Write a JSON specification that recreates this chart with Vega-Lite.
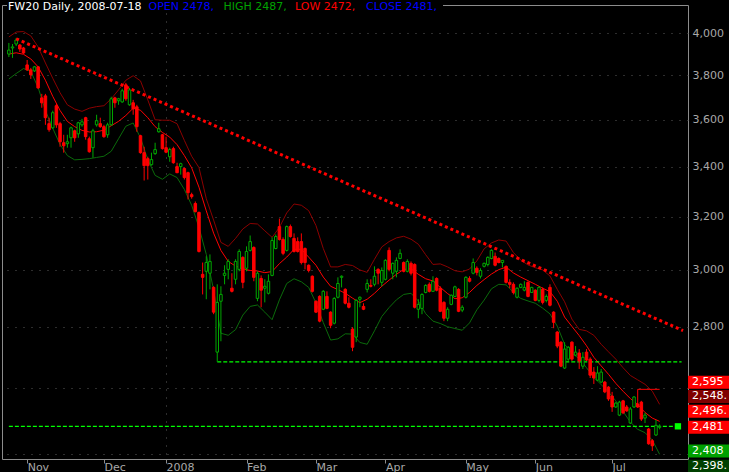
{
  "$schema": "https://vega.github.io/schema/vega-lite/v6.json",
  "width": 686,
  "height": 454,
  "autosize": {"type": "none"},
  "padding": {"left": 2, "top": 5, "right": 41, "bottom": 13},
  "background": "#000000",
  "config": {"view": {"stroke": "#8c8c8c", "strokeWidth": 1}, "font": "DejaVu Sans"},
  "datasets": {
    "ohlc": [
      {"i":0,"o":3899,"h":3952,"l":3885,"c":3918},{"i":1,"o":3928,"h":3947,"l":3881,"c":3933},{"i":2,"o":3947,"h":3976,"l":3937,"c":3966},{"i":3,"o":3942,"h":3947,"l":3909,"c":3923},{"i":4,"o":3928,"h":3933,"l":3900,"c":3904},{"i":5,"o":3848,"h":3871,"l":3820,"c":3825},{"i":6,"o":3825,"h":3834,"l":3783,"c":3802},{"i":7,"o":3820,"h":3843,"l":3815,"c":3839},{"i":8,"o":3839,"h":3843,"l":3738,"c":3742},{"i":9,"o":3697,"h":3715,"l":3653,"c":3675},
      {"i":10,"o":3706,"h":3715,"l":3578,"c":3609},{"i":11,"o":3583,"h":3609,"l":3548,"c":3557},{"i":12,"o":3565,"h":3640,"l":3561,"c":3631},{"i":13,"o":3662,"h":3670,"l":3565,"c":3578},{"i":14,"o":3583,"h":3591,"l":3484,"c":3505},{"i":15,"o":3501,"h":3535,"l":3459,"c":3488},{"i":16,"o":3497,"h":3535,"l":3480,"c":3505},{"i":17,"o":3522,"h":3570,"l":3480,"c":3565},{"i":18,"o":3552,"h":3557,"l":3505,"c":3522},{"i":19,"o":3539,"h":3591,"l":3522,"c":3587},
      {"i":20,"o":3578,"h":3604,"l":3570,"c":3591},{"i":21,"o":3609,"h":3613,"l":3514,"c":3527},{"i":22,"o":3518,"h":3527,"l":3459,"c":3463},{"i":23,"o":3480,"h":3561,"l":3438,"c":3552},{"i":24,"o":3578,"h":3622,"l":3570,"c":3596},{"i":25,"o":3583,"h":3609,"l":3565,"c":3570},{"i":26,"o":3570,"h":3578,"l":3522,"c":3527},{"i":27,"o":3535,"h":3587,"l":3522,"c":3578},{"i":28,"o":3578,"h":3702,"l":3574,"c":3693},{"i":29,"o":3697,"h":3702,"l":3653,"c":3675},
      {"i":30,"o":3684,"h":3697,"l":3666,"c":3693},{"i":31,"o":3679,"h":3738,"l":3675,"c":3729},{"i":32,"o":3756,"h":3765,"l":3684,"c":3693},{"i":33,"o":3666,"h":3742,"l":3662,"c":3733},{"i":34,"o":3675,"h":3688,"l":3622,"c":3648},{"i":35,"o":3657,"h":3666,"l":3548,"c":3570},{"i":36,"o":3531,"h":3535,"l":3455,"c":3459},{"i":37,"o":3459,"h":3484,"l":3344,"c":3405},{"i":38,"o":3434,"h":3442,"l":3348,"c":3405},{"i":39,"o":3409,"h":3459,"l":3405,"c":3430},
      {"i":40,"o":3455,"h":3501,"l":3450,"c":3472},{"i":41,"o":3548,"h":3587,"l":3544,"c":3561},{"i":42,"o":3535,"h":3539,"l":3472,"c":3476},{"i":43,"o":3480,"h":3527,"l":3457,"c":3461},{"i":44,"o":3442,"h":3480,"l":3421,"c":3472},{"i":45,"o":3476,"h":3484,"l":3413,"c":3417},{"i":46,"o":3401,"h":3417,"l":3374,"c":3376},{"i":47,"o":3401,"h":3417,"l":3368,"c":3413},{"i":48,"o":3393,"h":3397,"l":3348,"c":3356},{"i":49,"o":3376,"h":3380,"l":3268,"c":3295},
      {"i":50,"o":3287,"h":3295,"l":3271,"c":3279},{"i":51,"o":3252,"h":3260,"l":3217,"c":3220},{"i":52,"o":3217,"h":3220,"l":3064,"c":3068},{"i":53,"o":2984,"h":3027,"l":2912,"c":2973},{"i":54,"o":2995,"h":3050,"l":2895,"c":3027},{"i":55,"o":2988,"h":3057,"l":2930,"c":3031},{"i":56,"o":2937,"h":2941,"l":2843,"c":2850},{"i":57,"o":2715,"h":2948,"l":2683,"c":2884},{"i":58,"o":2888,"h":2941,"l":2751,"c":2912},{"i":59,"o":2980,"h":3017,"l":2948,"c":2988},
      {"i":60,"o":3002,"h":3039,"l":2966,"c":3031},{"i":61,"o":2934,"h":2988,"l":2919,"c":2923},{"i":62,"o":2966,"h":3039,"l":2948,"c":3031},{"i":63,"o":3002,"h":3076,"l":2995,"c":3068},{"i":64,"o":3046,"h":3050,"l":2934,"c":2955},{"i":65,"o":3006,"h":3087,"l":2995,"c":3068},{"i":66,"o":3072,"h":3128,"l":3068,"c":3105},{"i":67,"o":3083,"h":3087,"l":2959,"c":2973},{"i":68,"o":2898,"h":2995,"l":2888,"c":2988},{"i":69,"o":2969,"h":2980,"l":2867,"c":2927},
      {"i":70,"o":2934,"h":2966,"l":2884,"c":2941},{"i":71,"o":2916,"h":2984,"l":2912,"c":2959},{"i":72,"o":2980,"h":3121,"l":2977,"c":3109},{"i":73,"o":3079,"h":3132,"l":3076,"c":3124},{"i":74,"o":3162,"h":3193,"l":3109,"c":3113},{"i":75,"o":3113,"h":3121,"l":3054,"c":3061},{"i":76,"o":3072,"h":3166,"l":3068,"c":3162},{"i":77,"o":3162,"h":3170,"l":3120,"c":3124},{"i":78,"o":3117,"h":3136,"l":3064,"c":3068},{"i":79,"o":3105,"h":3121,"l":3064,"c":3068},
      {"i":80,"o":3105,"h":3136,"l":3020,"c":3027},{"i":81,"o":3079,"h":3083,"l":3002,"c":3027},{"i":82,"o":3017,"h":3020,"l":2991,"c":2998},{"i":83,"o":2977,"h":2980,"l":2919,"c":2923},{"i":84,"o":2888,"h":2891,"l":2847,"c":2850},{"i":85,"o":2905,"h":2909,"l":2815,"c":2819},{"i":86,"o":2860,"h":2927,"l":2857,"c":2923},{"i":87,"o":2905,"h":2923,"l":2860,"c":2863},{"i":88,"o":2850,"h":2853,"l":2795,"c":2805},{"i":89,"o":2812,"h":2902,"l":2808,"c":2898},
      {"i":90,"o":2902,"h":2973,"l":2898,"c":2951},{"i":91,"o":2973,"h":2980,"l":2937,"c":2977},{"i":92,"o":2930,"h":2934,"l":2877,"c":2881},{"i":93,"o":2881,"h":2902,"l":2863,"c":2867},{"i":94,"o":2792,"h":2798,"l":2718,"c":2731},{"i":95,"o":2765,"h":2895,"l":2748,"c":2891},{"i":96,"o":2895,"h":2905,"l":2867,"c":2902},{"i":97,"o":2870,"h":2881,"l":2857,"c":2860},{"i":98,"o":2930,"h":2966,"l":2919,"c":2951},{"i":99,"o":2944,"h":2966,"l":2937,"c":2941},
      {"i":100,"o":2948,"h":3013,"l":2941,"c":2977},{"i":101,"o":3002,"h":3006,"l":2948,"c":2988},{"i":102,"o":2955,"h":3009,"l":2941,"c":2998},{"i":103,"o":2966,"h":3039,"l":2962,"c":3035},{"i":104,"o":3072,"h":3083,"l":2995,"c":3002},{"i":105,"o":2988,"h":3027,"l":2966,"c":3024},{"i":106,"o":2995,"h":3046,"l":2973,"c":3035},{"i":107,"o":3042,"h":3076,"l":3039,"c":3061},{"i":108,"o":3027,"h":3031,"l":2991,"c":2995},{"i":109,"o":2995,"h":3039,"l":2991,"c":3031},
      {"i":110,"o":3024,"h":3031,"l":2980,"c":2988},{"i":111,"o":3020,"h":3024,"l":2863,"c":2867},{"i":112,"o":2860,"h":2895,"l":2829,"c":2877},{"i":113,"o":2863,"h":2916,"l":2843,"c":2912},{"i":114,"o":2919,"h":2948,"l":2916,"c":2944},{"i":115,"o":2948,"h":2955,"l":2919,"c":2923},{"i":116,"o":2923,"h":2977,"l":2921,"c":2959},{"i":117,"o":2969,"h":2973,"l":2923,"c":2927},{"i":118,"o":2934,"h":2941,"l":2850,"c":2853},{"i":119,"o":2884,"h":2888,"l":2819,"c":2829},
      {"i":120,"o":2829,"h":2867,"l":2819,"c":2860},{"i":121,"o":2877,"h":2912,"l":2874,"c":2909},{"i":122,"o":2905,"h":2943,"l":2902,"c":2939},{"i":123,"o":2930,"h":2934,"l":2850,"c":2853},{"i":124,"o":2857,"h":2874,"l":2850,"c":2867},{"i":125,"o":2902,"h":2977,"l":2898,"c":2973},{"i":126,"o":2969,"h":2977,"l":2955,"c":2959},{"i":127,"o":2988,"h":3042,"l":2984,"c":3027},{"i":128,"o":3006,"h":3013,"l":2980,"c":2991},{"i":129,"o":2977,"h":3006,"l":2969,"c":2998},
      {"i":130,"o":3013,"h":3027,"l":3009,"c":3024},{"i":131,"o":3020,"h":3050,"l":3013,"c":3046},{"i":132,"o":3042,"h":3076,"l":3039,"c":3072},{"i":133,"o":3050,"h":3064,"l":3013,"c":3017},{"i":134,"o":3042,"h":3046,"l":3024,"c":3027},{"i":135,"o":3027,"h":3035,"l":3009,"c":3035},{"i":136,"o":3013,"h":3016,"l":2951,"c":2955},{"i":137,"o":2955,"h":2966,"l":2934,"c":2948},{"i":138,"o":2948,"h":2955,"l":2912,"c":2919},{"i":139,"o":2902,"h":2937,"l":2898,"c":2934},
      {"i":140,"o":2937,"h":2951,"l":2934,"c":2948},{"i":141,"o":2927,"h":2959,"l":2923,"c":2937},{"i":142,"o":2955,"h":2959,"l":2902,"c":2905},{"i":143,"o":2919,"h":2939,"l":2917,"c":2937},{"i":144,"o":2927,"h":2930,"l":2888,"c":2891},{"i":145,"o":2891,"h":2941,"l":2884,"c":2937},{"i":146,"o":2930,"h":2937,"l":2877,"c":2884},{"i":147,"o":2891,"h":2912,"l":2884,"c":2905},{"i":148,"o":2937,"h":2948,"l":2870,"c":2874},{"i":149,"o":2850,"h":2853,"l":2795,"c":2815},
      {"i":150,"o":2782,"h":2785,"l":2728,"c":2735},{"i":151,"o":2748,"h":2751,"l":2666,"c":2669},{"i":152,"o":2663,"h":2748,"l":2660,"c":2725},{"i":153,"o":2692,"h":2735,"l":2686,"c":2731},{"i":154,"o":2748,"h":2751,"l":2686,"c":2692},{"i":155,"o":2705,"h":2735,"l":2702,"c":2715},{"i":156,"o":2712,"h":2725,"l":2660,"c":2686},{"i":157,"o":2669,"h":2715,"l":2660,"c":2698},{"i":158,"o":2715,"h":2725,"l":2686,"c":2689},{"i":159,"o":2692,"h":2698,"l":2631,"c":2640},
      {"i":160,"o":2650,"h":2666,"l":2612,"c":2631},{"i":161,"o":2624,"h":2669,"l":2621,"c":2647},{"i":162,"o":2618,"h":2660,"l":2616,"c":2650},{"i":163,"o":2618,"h":2621,"l":2583,"c":2587},{"i":164,"o":2602,"h":2605,"l":2559,"c":2565},{"i":165,"o":2574,"h":2587,"l":2525,"c":2540},{"i":166,"o":2540,"h":2555,"l":2537,"c":2552},{"i":167,"o":2515,"h":2559,"l":2512,"c":2555},{"i":168,"o":2559,"h":2562,"l":2518,"c":2522},{"i":169,"o":2540,"h":2546,"l":2525,"c":2528},
      {"i":170,"o":2491,"h":2540,"l":2488,"c":2534},{"i":171,"o":2540,"h":2574,"l":2537,"c":2571},{"i":172,"o":2549,"h":2552,"l":2537,"c":2540},{"i":173,"o":2555,"h":2559,"l":2497,"c":2503},{"i":174,"o":2506,"h":2522,"l":2491,"c":2515},{"i":175,"o":2473,"h":2476,"l":2426,"c":2429},{"i":176,"o":2438,"h":2443,"l":2408,"c":2423},{"i":177,"o":2455,"h":2500,"l":2452,"c":2484},{"i":178,"o":2478,"h":2487,"l":2472,"c":2481}
    ],
    "bands": [
      {"i":0,"u":3981,"m":3899,"lo":3783},{"i":2,"u":4005,"m":3905,"lo":3808},{"i":4,"u":4007,"m":3898,"lo":3831},{"i":6,"u":3986,"m":3876,"lo":3818},{"i":8,"u":3933,"m":3839,"lo":3744},{"i":10,"u":3857,"m":3777,"lo":3641},{"i":12,"u":3786,"m":3704,"lo":3563},{"i":14,"u":3720,"m":3641,"lo":3494},{"i":16,"u":3666,"m":3593,"lo":3447},{"i":18,"u":3647,"m":3570,"lo":3429},
      {"i":20,"u":3637,"m":3554,"lo":3431},{"i":22,"u":3651,"m":3547,"lo":3434},{"i":24,"u":3658,"m":3548,"lo":3439},{"i":26,"u":3662,"m":3555,"lo":3444},{"i":28,"u":3693,"m":3574,"lo":3465},{"i":30,"u":3733,"m":3593,"lo":3518},{"i":32,"u":3777,"m":3619,"lo":3572},{"i":34,"u":3798,"m":3651,"lo":3586},{"i":36,"u":3774,"m":3642,"lo":3522},{"i":38,"u":3688,"m":3609,"lo":3430},
      {"i":40,"u":3600,"m":3570,"lo":3365},{"i":42,"u":3598,"m":3545,"lo":3349},{"i":44,"u":3598,"m":3525,"lo":3371},{"i":46,"u":3583,"m":3493,"lo":3356},{"i":48,"u":3511,"m":3447,"lo":3308},{"i":50,"u":3444,"m":3396,"lo":3245},{"i":52,"u":3397,"m":3317,"lo":3159},{"i":54,"u":3271,"m":3223,"lo":3057},{"i":56,"u":3187,"m":3137,"lo":2928},{"i":58,"u":3102,"m":3072,"lo":2778},
      {"i":60,"u":3087,"m":3031,"lo":2771},{"i":62,"u":3117,"m":3014,"lo":2790},{"i":64,"u":3153,"m":3004,"lo":2840},{"i":66,"u":3174,"m":2998,"lo":2870},{"i":68,"u":3172,"m":2996,"lo":2875},{"i":70,"u":3146,"m":2990,"lo":2850},{"i":72,"u":3121,"m":2994,"lo":2824},{"i":74,"u":3159,"m":3023,"lo":2893},{"i":76,"u":3215,"m":3047,"lo":2951},{"i":78,"u":3250,"m":3076,"lo":2968},
      {"i":80,"u":3245,"m":3076,"lo":2957},{"i":82,"u":3224,"m":3047,"lo":2937},{"i":84,"u":3166,"m":3017,"lo":2882},{"i":86,"u":3079,"m":2974,"lo":2814},{"i":88,"u":3011,"m":2941,"lo":2755},{"i":90,"u":3011,"m":2929,"lo":2759},{"i":92,"u":3020,"m":2916,"lo":2776},{"i":94,"u":3016,"m":2899,"lo":2775},{"i":96,"u":3000,"m":2883,"lo":2747},{"i":98,"u":2991,"m":2895,"lo":2741},
      {"i":100,"u":3039,"m":2916,"lo":2786},{"i":102,"u":3085,"m":2941,"lo":2835},{"i":104,"u":3105,"m":2963,"lo":2866},{"i":106,"u":3119,"m":2984,"lo":2893},{"i":108,"u":3125,"m":3002,"lo":2912},{"i":110,"u":3114,"m":3004,"lo":2916},{"i":112,"u":3095,"m":2984,"lo":2889},{"i":114,"u":3056,"m":2968,"lo":2845},{"i":116,"u":3020,"m":2960,"lo":2819},{"i":118,"u":3022,"m":2937,"lo":2811},
      {"i":120,"u":3011,"m":2915,"lo":2800},{"i":122,"u":2997,"m":2897,"lo":2794},{"i":124,"u":2993,"m":2900,"lo":2788},{"i":126,"u":3003,"m":2919,"lo":2813},{"i":128,"u":3033,"m":2944,"lo":2858},{"i":130,"u":3078,"m":2965,"lo":2892},{"i":132,"u":3100,"m":2985,"lo":2932},{"i":134,"u":3111,"m":3001,"lo":2948},{"i":136,"u":3107,"m":3010,"lo":2946},{"i":138,"u":3064,"m":2989,"lo":2920},
      {"i":140,"u":3036,"m":2974,"lo":2898},{"i":142,"u":3018,"m":2961,"lo":2889},{"i":144,"u":3008,"m":2948,"lo":2881},{"i":146,"u":3000,"m":2934,"lo":2864},{"i":148,"u":2978,"m":2922,"lo":2844},{"i":150,"u":2930,"m":2888,"lo":2802},{"i":152,"u":2886,"m":2833,"lo":2741},{"i":154,"u":2826,"m":2801,"lo":2712},{"i":156,"u":2791,"m":2770,"lo":2693},{"i":158,"u":2786,"m":2736,"lo":2664},
      {"i":160,"u":2771,"m":2698,"lo":2633},{"i":162,"u":2741,"m":2670,"lo":2610},{"i":164,"u":2716,"m":2643,"lo":2587},{"i":166,"u":2692,"m":2614,"lo":2559},{"i":168,"u":2664,"m":2589,"lo":2526},{"i":170,"u":2639,"m":2566,"lo":2494},{"i":172,"u":2625,"m":2548,"lo":2472},{"i":174,"u":2611,"m":2523,"lo":2462},{"i":176,"u":2589,"m":2506,"lo":2440},{"i":178,"u":2548,"m":2496,"lo":2398}
    ],
    "trend": [{"i":2,"p":3972},{"i":184.4,"p":2787}],
    "support": [{"i":57,"p":2683},{"i":184,"p":2683}],
    "lastline": [{"i":0,"p":2481},{"i":182,"p":2481}],
    "lastmark": [{"i":183,"p":2481}],
    "stop": [{"s":0,"i":172,"p":2546},{"s":1,"i":172,"p":2595},{"s":2,"i":178,"p":2595}],
    "tags": [
      {"k":"stop","v":2595,"t":"2,595"},
      {"k":"upper","v":2548,"t":"2,548."},
      {"k":"ma","v":2496,"t":"2,496."},
      {"k":"close","v":2481,"t":"2,481"},
      {"k":"low","v":2408,"t":"2,408"},
      {"k":"lower","v":2398,"t":"2,398."}
    ]
  },
  "encoding": {
    "x": {
      "field": "i", "type": "quantitative",
      "scale": {"domain": [-0.512, 184.39], "nice": false, "zero": false},
      "axis": {
        "orient": "bottom", "title": null,
        "values": [5, 26, 43, 65, 84, 103, 125, 144, 165],
        "labelExpr": "datum.value==5?'Nov':datum.value==26?'Dec':datum.value==43?'2008':datum.value==65?'Feb':datum.value==84?'Mar':datum.value==103?'Apr':datum.value==125?'May':datum.value==144?'Jun':'Jul'",
        "grid": true, "gridColor": "#5a5a5a", "gridDash": [1, 7],
        "gridOpacity": {"condition": {"test": "datum.value == 43", "value": 1}, "value": 0},
        "domain": false, "ticks": true, "tickColor": "#8c8c8c", "tickSize": 4,
        "labelColor": "#a8a8a8", "labelFont": "DejaVu Sans", "labelFontSize": 11,
        "labelAlign": "left", "labelBaseline": "top", "labelPadding": -2, "labelDx": 2,
        "labelFlush": false, "labelOverlap": false
      }
    },
    "y": {
      "field": "p", "type": "quantitative",
      "scale": {"type": "log", "domain": [2384.5, 4138.4], "nice": false, "zero": false},
      "axis": {
        "orient": "right", "title": null,
        "values": [2400, 2600, 2800, 3000, 3200, 3400, 3600, 3800, 4000],
        "labelExpr": "datum.value < 2700 ? '' : format(datum.value, ',')",
        "grid": true, "gridColor": "#5a5a5a", "gridDash": [1, 7],
        "ticks": false, "domain": false,
        "labelColor": "#a8a8a8", "labelFont": "DejaVu Sans", "labelFontSize": 11,
        "labelPadding": 4, "labelBaseline": "middle", "labelFlush": false
      }
    }
  },
  "layer": [
    {
      "data": {"name": "trend"},
      "mark": {"type": "line", "color": "#ff0000", "strokeWidth": 3, "strokeDash": [3, 3], "opacity": 0},
      "encoding": {}
    },
    {
      "data": {"name": "bands"},
      "mark": {"type": "line", "color": "#8c0000", "strokeWidth": 1},
      "encoding": {"y": {"field": "u", "type": "quantitative", "title": null}}
    },
    {
      "data": {"name": "bands"},
      "mark": {"type": "line", "color": "#ff0000", "strokeWidth": 1},
      "encoding": {"y": {"field": "m", "type": "quantitative", "title": null}}
    },
    {
      "data": {"name": "bands"},
      "mark": {"type": "line", "color": "#0b6b0b", "strokeWidth": 1},
      "encoding": {"y": {"field": "lo", "type": "quantitative", "title": null}}
    },
    {
      "data": {"name": "support"},
      "mark": {"type": "line", "color": "#00ff00", "strokeWidth": 1.3, "strokeDash": [4, 2]},
      "encoding": {}
    },
    {
      "data": {"name": "lastline"},
      "mark": {"type": "line", "color": "#00ff00", "strokeWidth": 1.3, "strokeDash": [4, 2]},
      "encoding": {}
    },
    {
      "data": {"name": "lastmark"},
      "mark": {"type": "point", "shape": "square", "filled": true, "color": "#00ff00", "size": 40, "opacity": 1},
      "encoding": {}
    },
    {
      "data": {"name": "ohlc"},
      "mark": {"type": "rule", "strokeWidth": 1},
      "encoding": {
        "y": {"field": "l", "type": "quantitative", "title": null},
        "y2": {"field": "h"},
        "color": {"condition": {"test": "datum.c >= datum.o", "value": "#00a800"}, "value": "#ff0000"}
      }
    },
    {
      "data": {"name": "ohlc"},
      "mark": {"type": "bar", "width": 2.5, "strokeWidth": 1},
      "encoding": {
        "y": {"field": "o", "type": "quantitative", "title": null},
        "y2": {"field": "c"},
        "fill": {"condition": {"test": "datum.c >= datum.o", "value": "#000000"}, "value": "#ff0000"},
        "stroke": {"condition": {"test": "datum.c >= datum.o", "value": "#00a800"}, "value": "#ff0000"}
      }
    },
    {
      "data": {"name": "trend"},
      "mark": {"type": "line", "color": "#ff0000", "strokeWidth": 3, "strokeDash": [3, 3]},
      "encoding": {}
    },
    {
      "data": {"name": "stop"},
      "mark": {"type": "line", "color": "#ff0000", "strokeWidth": 1},
      "encoding": {"order": {"field": "s"}}
    },
    {
      "data": {"name": "tags"},
      "transform": [{"filter": "datum.k == 'stop'"}],
      "layer": [
        {"mark": {"type": "tick", "orient": "horizontal", "size": 41, "thickness": 13, "color": "#ff0000", "opacity": 1, "yOffset": -7},
         "encoding": {"x": {"value": 706.5}, "y": {"field": "v", "type": "quantitative", "title": null}}},
        {"mark": {"type": "text", "align": "left", "baseline": "middle", "color": "#ffffff", "fontSize": 11, "yOffset": -7},
         "encoding": {"x": {"value": 690}, "y": {"field": "v", "type": "quantitative", "title": null}, "text": {"field": "t"}}}
      ]
    },
    {
      "data": {"name": "tags"},
      "transform": [{"filter": "datum.k == 'upper'"}],
      "layer": [
        {"mark": {"type": "tick", "orient": "horizontal", "size": 41, "thickness": 13, "color": "#800000", "opacity": 1, "yOffset": -8},
         "encoding": {"x": {"value": 706.5}, "y": {"field": "v", "type": "quantitative", "title": null}}},
        {"mark": {"type": "text", "align": "left", "baseline": "middle", "color": "#ffffff", "fontSize": 11, "yOffset": -8},
         "encoding": {"x": {"value": 690}, "y": {"field": "v", "type": "quantitative", "title": null}, "text": {"field": "t"}}}
      ]
    },
    {
      "data": {"name": "tags"},
      "transform": [{"filter": "datum.k == 'ma'"}],
      "layer": [
        {"mark": {"type": "tick", "orient": "horizontal", "size": 41, "thickness": 13, "color": "#ff0000", "opacity": 1, "yOffset": -10},
         "encoding": {"x": {"value": 706.5}, "y": {"field": "v", "type": "quantitative", "title": null}}},
        {"mark": {"type": "text", "align": "left", "baseline": "middle", "color": "#ffffff", "fontSize": 11, "yOffset": -10},
         "encoding": {"x": {"value": 690}, "y": {"field": "v", "type": "quantitative", "title": null}, "text": {"field": "t"}}}
      ]
    },
    {
      "data": {"name": "tags"},
      "transform": [{"filter": "datum.k == 'close'"}],
      "layer": [
        {"mark": {"type": "tick", "orient": "horizontal", "size": 41, "thickness": 13, "color": "#ff0000", "opacity": 1, "yOffset": 1},
         "encoding": {"x": {"value": 706.5}, "y": {"field": "v", "type": "quantitative", "title": null}}},
        {"mark": {"type": "text", "align": "left", "baseline": "middle", "color": "#ffffff", "fontSize": 11, "yOffset": 1},
         "encoding": {"x": {"value": 690}, "y": {"field": "v", "type": "quantitative", "title": null}, "text": {"field": "t"}}}
      ]
    },
    {
      "data": {"name": "tags"},
      "transform": [{"filter": "datum.k == 'low'"}],
      "layer": [
        {"mark": {"type": "tick", "orient": "horizontal", "size": 41, "thickness": 13, "color": "#00a000", "opacity": 1, "yOffset": 0},
         "encoding": {"x": {"value": 706.5}, "y": {"field": "v", "type": "quantitative", "title": null}}},
        {"mark": {"type": "text", "align": "left", "baseline": "middle", "color": "#ffffff", "fontSize": 11, "yOffset": 0},
         "encoding": {"x": {"value": 690}, "y": {"field": "v", "type": "quantitative", "title": null}, "text": {"field": "t"}}}
      ]
    },
    {
      "data": {"name": "tags"},
      "transform": [{"filter": "datum.k == 'lower'"}],
      "layer": [
        {"mark": {"type": "tick", "orient": "horizontal", "size": 41, "thickness": 13, "color": "#004000", "opacity": 1, "yOffset": 12},
         "encoding": {"x": {"value": 706.5}, "y": {"field": "v", "type": "quantitative", "title": null}}},
        {"mark": {"type": "text", "align": "left", "baseline": "middle", "color": "#ffffff", "fontSize": 11, "yOffset": 12},
         "encoding": {"x": {"value": 690}, "y": {"field": "v", "type": "quantitative", "title": null}, "text": {"field": "t"}}}
      ]
    },
    {
      "data": {"values": [{}]},
      "layer": [
        {"mark": {"type": "rect", "color": "#000000"},
         "encoding": {"x": {"value": 5}, "x2": {"value": 441}, "y": {"value": -5}, "y2": {"value": 4}}},
        {"mark": {"type": "text", "text": "FW20 Daily, 2008-07-18", "color": "#ffffff", "fontSize": 11, "align": "left", "baseline": "alphabetic"},
         "encoding": {"x": {"value": 6}, "y": {"value": 5}}},
        {"mark": {"type": "text", "text": "OPEN 2478,", "color": "#0000ff", "fontSize": 11, "align": "left", "baseline": "alphabetic"},
         "encoding": {"x": {"value": 146.5}, "y": {"value": 5}}},
        {"mark": {"type": "text", "text": "HIGH 2487,", "color": "#00a000", "fontSize": 11, "align": "left", "baseline": "alphabetic"},
         "encoding": {"x": {"value": 221.5}, "y": {"value": 5}}},
        {"mark": {"type": "text", "text": "LOW 2472,", "color": "#ff0000", "fontSize": 11, "align": "left", "baseline": "alphabetic"},
         "encoding": {"x": {"value": 293}, "y": {"value": 5}}},
        {"mark": {"type": "text", "text": "CLOSE 2481,", "color": "#0000ff", "fontSize": 11, "align": "left", "baseline": "alphabetic"},
         "encoding": {"x": {"value": 364}, "y": {"value": 5}}}
      ]
    }
  ]
}
